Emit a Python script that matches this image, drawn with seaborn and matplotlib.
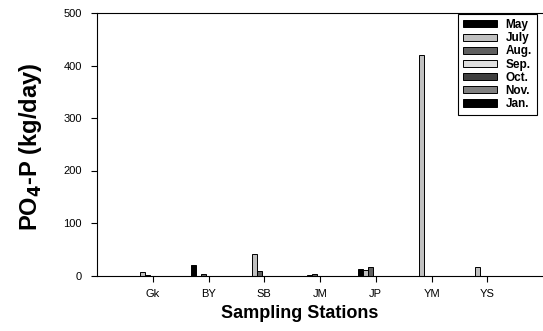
import matplotlib
matplotlib.use("Agg")
import matplotlib.pyplot as plt
import seaborn as sns
import pandas as pd

stations = ["Gk", "BY", "SB", "JM", "JP", "YM", "YS"]
months = ["May", "July", "Aug.", "Sep.", "Oct.", "Nov.", "Jan."]
# values (kg/day) per month, in station order
may  = [0, 20, 0, 0, 13, 0, 0]
july = [6, 0, 41, 0.6, 11, 420, 17]
aug  = [1, 2, 9, 2, 17, 0, 0]
sep  = [0, 0, 0, 0, 0, 0, 0]
octo = [0, 0, 0, 0, 0, 0, 0]
nov  = [0, 0, 0, 0, 0, 0, 0]
jan  = [0, 0, 0, 0, 0, 0, 0]
series = [may, july, aug, sep, octo, nov, jan]
colors = ["#000000", "#c0c0c0", "#606060", "#e0e0e0", "#404040", "#808080", "#000000"]

rows = []
for m, vals in zip(months, series):
    for s, v in zip(stations, vals):
        rows.append({"Station": s, "Month": m, "Value": v})
df = pd.DataFrame(rows)

sns.set_style("ticks")
plt.rcParams["font.family"] = ["Liberation Sans", "DejaVu Sans"]
plt.rcParams["text.color"] = "black"
plt.rcParams["axes.labelcolor"] = "black"

fig = plt.figure(figsize=(5.43, 3.31), dpi=100)
ax = fig.add_axes([97/543, (331-275.5)/331, 446/543, 262.5/331])

sns.barplot(data=df, x="Station", y="Value", hue="Month", order=stations,
            hue_order=months, palette=colors, width=0.63, dodge=True,
            edgecolor="black", linewidth=0.7, ax=ax, legend=True,
            errorbar=None, saturation=1)

ax.set_xlim(-1, 7)
ax.set_ylim(0, 500)
ax.set_yticks([0, 100, 200, 300, 400, 500])
ax.tick_params(axis="both", direction="out", length=4, width=0.8, labelsize=8,
               colors="black", labelcolor="black")
ax.tick_params(axis="y", pad=7)
ax.tick_params(axis="x", pad=6)
for sp in ["left", "bottom", "top"]:
    ax.spines[sp].set_visible(True)
    ax.spines[sp].set_linewidth(0.8)
    ax.spines[sp].set_color("black")
ax.spines["right"].set_visible(False)

ax.set_xlabel("Sampling Stations", fontsize=13, fontweight="bold", color="black")
ax.xaxis.set_label_coords((300 - 97) / 446, -(305 - 275.5) / 262.5)
ax.set_ylabel(r"PO$_\mathbf{4}$-P (kg/day)", fontsize=17, fontweight="bold",
              color="black")
ax.yaxis.set_label_coords(-(97 - 44) / 446, 0.49)

handles, labels = ax.get_legend_handles_labels()
leg = ax.legend(handles, labels, loc="upper right", bbox_to_anchor=(0.987, 0.997),
                frameon=True, fancybox=False, edgecolor="black", framealpha=1,
                prop={"weight": "bold", "size": 8.5}, handlelength=2.9, handleheight=0.55,
                labelspacing=0.1, borderpad=0.45, handletextpad=0.7, borderaxespad=0)
leg.get_frame().set_linewidth(0.8)
for t in leg.get_texts():
    t.set_color("black")

fig.savefig("out.png", dpi=100)
